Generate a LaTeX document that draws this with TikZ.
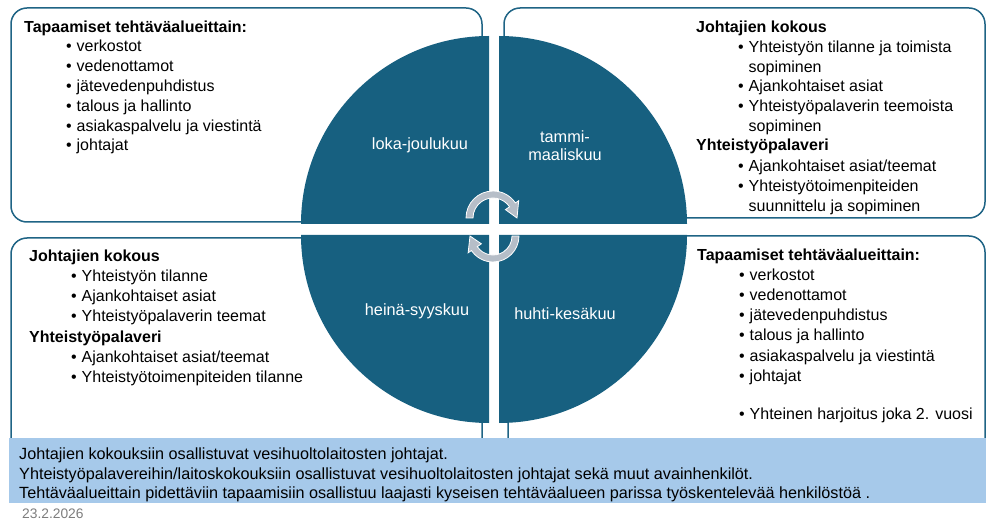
\documentclass[tikz,border=0pt]{standalone}
\usepackage{fontspec}
\setmainfont{Liberation Sans}
\definecolor{qteal}{RGB}{23,96,128}
\definecolor{boxline}{RGB}{31,100,133}
\definecolor{arrowgray}{RGB}{182,190,200}
\definecolor{bannerblue}{RGB}{166,201,234}
\definecolor{dategray}{RGB}{125,125,125}
\newcommand\bul{\makebox[10.5pt][l]{•}}
\tikzset{
  box/.style={draw=boxline, line width=1.5pt, rounded corners=16pt, fill=white},
  quarter/.style={fill=qteal},
  cyc/.style={fill=arrowgray, draw=white, line width=0.8pt},
  txt/.style={anchor=base west, inner sep=0pt, font=\fontsize{16}{20}\selectfont, text=black},
  hd/.style={txt, font=\bfseries\fontsize{16}{20}\selectfont},
  qlabel/.style={anchor=center, inner sep=0pt, align=center, text=white, font=\fontsize{16.3}{18}\selectfont},
  bantxt/.style={anchor=base west, inner sep=0pt, font=\fontsize{16.2}{20}\selectfont, text=black},
}
\begin{document}
\begin{tikzpicture}[x=1pt,y=1pt]
\useasboundingbox (0,0) rectangle (988,520);
% boxes
\draw[box] (11,298) rectangle (482,512);
\draw[box] (504,302) rectangle (985,512);
\draw[box] (11,60) rectangle (482,282);
\draw[box] (508,60) rectangle (985,284);
% quarters
\fill[quarter] (489,296) -- (301,296) arc[start angle=180,end angle=90,radius=188] -- cycle;
\fill[quarter] (499,296) -- (499,484) arc[start angle=90,end angle=0,radius=188] -- cycle;
\fill[quarter] (489,285) -- (301,285) arc[start angle=180,end angle=270,radius=188] -- cycle;
\fill[quarter] (499,285) -- (687,285) arc[start angle=0,end angle=-90,radius=188] -- cycle;
% cycle arrows
\coordinate (cu) at (493,302);
\coordinate (cl) at (493,284);
\filldraw[cyc] ([shift={(cu)}]180:27) arc[start angle=180,end angle=34,radius=27]
  -- ([shift={(cu)}]34:31) -- ([shift={(cu)}]0:24) -- ([shift={(cu)}]34:15)
  -- ([shift={(cu)}]34:20) arc[start angle=34,end angle=180,radius=20] -- cycle;
\filldraw[cyc] ([shift={(cl)}]0:26) arc[start angle=0,end angle=-146,radius=26]
  -- ([shift={(cl)}]-146:30) -- ([shift={(cl)}]-180:23) -- ([shift={(cl)}]-146:14)
  -- ([shift={(cl)}]-146:19) arc[start angle=-146,end angle=0,radius=19] -- cycle;
% quarter labels
\node[qlabel] (q1) at (420,375) {loka-joulukuu};
\node[qlabel] (q2) at (565,374) {tammi-\\maaliskuu};
\node[qlabel] (q3) at (417,209) {heinä-syyskuu};
\node[qlabel] (q4) at (565,206) {huhti-kesäkuu};
% top-left box text
\node[hd] (tlh) at (24,487) {Tapaamiset tehtäväalueittain:};
\node[txt] (tl1) at (66,468) {\bul verkostot};
\node[txt] (tl2) at (66,448) {\bul vedenottamot};
\node[txt] (tl3) at (66,428) {\bul jätevedenpuhdistus};
\node[txt] (tl4) at (66,408) {\bul talous ja hallinto};
\node[txt] (tl5) at (66,388) {\bul asiakaspalvelu ja viestintä};
\node[txt] (tl6) at (66,369) {\bul johtajat};
% top-right box text
\node[hd] (trh1) at (696,487) {Johtajien kokous};
\node[txt] (tr1) at (738,467) {\bul Yhteistyön tilanne ja toimista};
\node[txt] (tr1b) at (748.5,447) {sopiminen};
\node[txt] (tr2) at (738,428) {\bul Ajankohtaiset asiat};
\node[txt] (tr3) at (738,408) {\bul Yhteistyöpalaverin teemoista};
\node[txt] (tr3b) at (748.5,388) {sopiminen};
\node[hd] (trh2) at (696,369) {Yhteistyöpalaveri};
\node[txt] (tr4) at (738,348) {\bul Ajankohtaiset asiat/teemat};
\node[txt] (tr5) at (738,328) {\bul Yhteistyötoimenpiteiden};
\node[txt] (tr5b) at (748.5,308) {suunnittelu ja sopiminen};
% bottom-left box text
\node[hd] (blh1) at (29,258) {Johtajien kokous};
\node[txt] (bl1) at (71,238) {\bul Yhteistyön tilanne};
\node[txt] (bl2) at (71,218) {\bul Ajankohtaiset asiat};
\node[txt] (bl3) at (71,198) {\bul Yhteistyöpalaverin teemat};
\node[hd] (blh2) at (29,178) {Yhteistyöpalaveri};
\node[txt] (bl4) at (71,158) {\bul Ajankohtaiset asiat/teemat};
\node[txt] (bl5) at (71,138) {\bul Yhteistyötoimenpiteiden tilanne};
% bottom-right box text
\node[hd] (brh) at (697,259) {Tapaamiset tehtäväalueittain:};
\node[txt] (br1) at (739,239) {\bul verkostot};
\node[txt] (br2) at (739,219) {\bul vedenottamot};
\node[txt] (br3) at (739,199) {\bul jätevedenpuhdistus};
\node[txt] (br4) at (739,179) {\bul talous ja hallinto};
\node[txt] (br5) at (739,159) {\bul asiakaspalvelu ja viestintä};
\node[txt] (br6) at (739,139) {\bul johtajat};
\node[txt] (br7) at (739,101) {\bul Yhteinen harjoitus joka 2. vuosi};
% banner
\fill[bannerblue] (9,17) rectangle (986,82);
\node[bantxt] (b1) at (19,61) {Johtajien kokouksiin osallistuvat vesihuoltolaitosten johtajat.};
\node[bantxt] (b2) at (19,41) {Yhteistyöpalavereihin/laitoskokouksiin osallistuvat vesihuoltolaitosten johtajat sekä muut avainhenkilöt.};
\node[bantxt] (b3) at (19,22) {Tehtäväalueittain pidettäviin tapaamisiin osallistuu laajasti kyseisen tehtäväalueen parissa työskentelevää henkilöstöä .};
% date
\node[anchor=base west, inner sep=0pt, text=dategray, font=\fontsize{13.8}{14}\selectfont] (date) at (22,2) {23.2.2026};
\end{tikzpicture}
\end{document}
